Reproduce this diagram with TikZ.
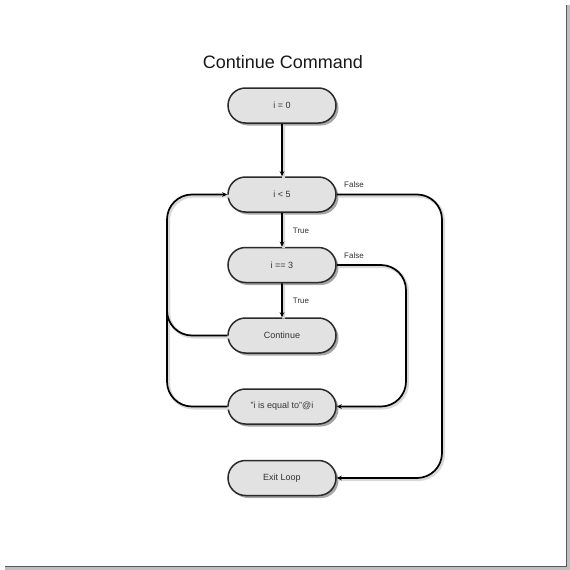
\documentclass[tikz,border=0pt]{standalone}
\usepackage{fontspec}
\setmainfont{Liberation Sans}
\usetikzlibrary{shapes.misc,arrows.meta,shadows,calc}
\definecolor{nodefill}{HTML}{E2E2E2}
\definecolor{nodeline}{HTML}{2A2A2A}
\definecolor{txt}{HTML}{333333}
\begin{document}
\begin{tikzpicture}[x=1pt,y=-1pt,
  flowbox/.style={rounded rectangle, draw=nodeline, line width=1.5pt, fill=nodefill,
    minimum width=108pt, minimum height=35pt, inner sep=0pt,
    font=\fontsize{9}{10}\selectfont, text=txt,
    drop shadow={shadow xshift=2.5pt, shadow yshift=-2.5pt, opacity=0.35, fill=black}},
  wire/.style={draw=black, line width=1.7pt, rounded corners=25pt,
    preaction={draw=black!15, line width=3pt, transform canvas={shift={(1.5pt,-1.5pt)}}, -}},
  conn/.style={wire, -{Stealth[length=5pt,width=4.5pt]}},
  lbl/.style={font=\fontsize{8}{9}\selectfont, text=txt, inner sep=0pt}]
\useasboundingbox (0,0) rectangle (570,570);
\fill[white] (0,0) rectangle (570,570);
% frame shadow
\draw[black!25, line width=3pt] (568,5) -- (568,568) -- (5,568);
\draw[black!65, line width=1.6pt] (566.5,5) -- (566.5,566.5) -- (5,566.5);

\node[font=\fontsize{18}{20}\selectfont, text=black!90] (title) at (283,62) {Continue Command};

\node[flowbox] (i0) at (282,105.5) {i = 0};
\node[flowbox] (lt5) at (282,194.5) {i < 5};
\node[flowbox] (eq3) at (282,265) {i == 3};
\node[flowbox] (cont) at (282,335.5) {Continue};
\node[flowbox] (prn) at (282,406.5) {"i is equal to"@i};
\node[flowbox] (exit) at (282,478) {Exit Loop};

\coordinate (L) at (167,0);
\coordinate (R1) at (442,0);
\coordinate (R2) at (406,0);
\coordinate (J) at (167,285);

\draw[conn] (i0) -- (lt5);
\draw[conn] (lt5) -- (eq3);
\draw[conn] (eq3) -- (cont);
\draw[conn] (lt5.east) -- (lt5.east -| R1) -- (exit.east -| R1) -- (exit.east);
\draw[conn] (eq3.east) -- (eq3.east -| R2) -- (prn.east -| R2) -- (prn.east);
\draw[conn] (prn.west) -- (prn.west -| L) -- (lt5.west -| L) -- (lt5.west);
\draw[wire] (cont.west) -- (cont.west -| L) -- (J);

\node[lbl] (f1) at (354,185) {False};
\node[lbl] (t1) at (301,231) {True};
\node[lbl] (f2) at (354,256) {False};
\node[lbl] (t2) at (301,301) {True};
\end{tikzpicture}
\end{document}
